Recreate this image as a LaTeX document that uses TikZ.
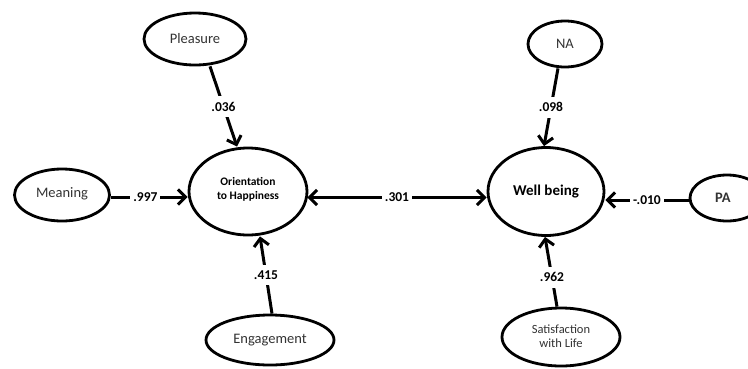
\documentclass[tikz,border=0pt]{standalone}
\usepackage{fontspec}
\setmainfont{Carlito}
\usetikzlibrary{shapes.geometric,arrows.meta}
\begin{document}
\begin{tikzpicture}[x=1pt,y=-1pt,
  >={Straight Barb[length=7.5pt,width=15pt]},
  latent/.style={draw, line width=2.8pt, ellipse, inner sep=0pt, align=center,
    text=black!80, font=\fontsize{14.5}{17}\selectfont},
  conn/.style={line width=3pt, ->},
  lbl/.style={fill=white, inner xsep=3pt, inner ysep=6pt, text=black,
    font=\fontsize{13.5}{15}\selectfont\bfseries}]
\clip (0,0) rectangle (748,368);
\fill[white] (0,0) rectangle (748,368);
% nodes
\node[latent, minimum width=102pt, minimum height=52pt] (pleasure) at (195,39) {\raisebox{2pt}{Pleasure}};
\node[latent, minimum width=118pt, minimum height=87pt, font=\fontsize{11.5}{18}\selectfont\bfseries, text=black] (orient) at (248,191.5) {\raisebox{6pt}{\shortstack{Orientation\\[3pt]to Happiness}}};
\node[latent, minimum width=95pt, minimum height=52pt] (meaning) at (62,195) {\raisebox{5pt}{Meaning}};
\node[latent, minimum width=128pt, minimum height=50pt] (engage) at (270,340) {\raisebox{2pt}{Engagement}};
\node[latent, minimum width=116pt, minimum height=88pt, font=\fontsize{15}{17}\selectfont\bfseries, text=black] (well) at (546,191.5) {\raisebox{-5pt}{Well being}};
\node[latent, minimum width=74pt, minimum height=46pt, font=\fontsize{14.5}{17}\selectfont] (na) at (565,44) {\raisebox{1pt}{NA}};
\node[latent, minimum width=74pt, minimum height=46pt, font=\fontsize{14.5}{17}\selectfont\bfseries] (pa) at (727,198) {\hspace*{-8pt}PA};
\node[latent, minimum width=118pt, minimum height=58pt, font=\fontsize{12.5}{18}\selectfont] (sat) at (561,337) {\raisebox{1pt}{\shortstack{Satisfaction\\[2pt]with Life}}};
% connectors
\draw[conn] ([xshift=15pt]pleasure.south) -- node[lbl]{.036} ([xshift=-11pt]orient.north);
\coordinate (m1) at ([yshift=-2pt]meaning.east);
\draw[conn] (m1) -- node[lbl,pos=0.45]{.997} (m1 -| orient.west);
\draw[conn] ([xshift=2pt]engage.north) -- node[lbl]{.415} ([xshift=12pt]orient.south);
\coordinate (o1) at ([yshift=-6pt,xshift=-1pt]orient.east);
\draw[conn,<->] (o1) -- node[lbl]{.301} (o1 -| well.west);
\draw[conn] ([xshift=-7pt]na.south) -- node[lbl]{.098} ([xshift=-2pt]well.north);
\coordinate (p1) at ([yshift=-2pt]pa.west);
\draw[conn] (p1) -- node[lbl]{-.010} (p1 -| well.east);
\draw[conn] ([xshift=-4pt]sat.north) -- node[lbl,pos=0.42]{.962} ([xshift=-1pt]well.south);
\end{tikzpicture}
\end{document}
